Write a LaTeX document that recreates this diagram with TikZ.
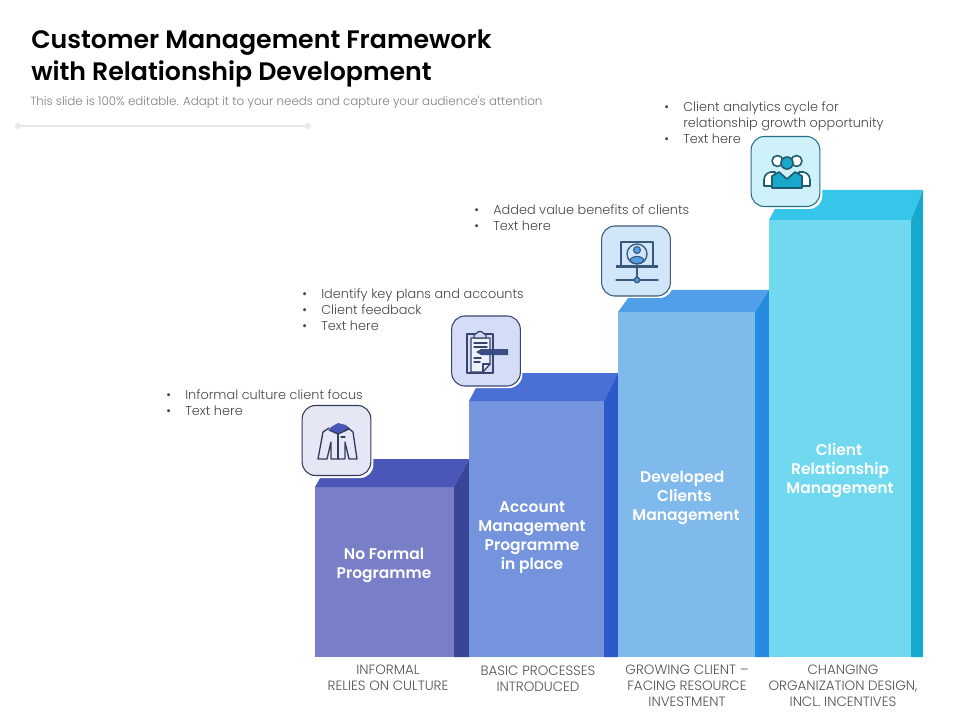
\documentclass[tikz,border=0pt]{standalone}
\usepackage{fontspec}
\setmainfont{Poppins}
\newfontfamily\lightfont{Poppins Light}
\newfontfamily\semifont{Poppins SemiBold}
\newcommand{\blt}{\makebox[14.25pt][l]{•}}
\tikzset{
  x=0.75pt,y=-0.75pt,
  tile/.style={draw=#1,line width=0.8pt,rounded corners=10pt,minimum width=51.5pt,minimum height=52.5pt,inner sep=0pt},
  glow/.style={fill=white,rounded corners=10pt,minimum width=51.5pt,minimum height=52.5pt,inner sep=0pt},
  bulletlist/.style={font=\lightfont\fontsize{9.65}{12}\selectfont,text=black!72,align=left,anchor=north west,inner sep=0pt},
  barlabel/.style={font=\semifont\fontsize{11.6}{14.3}\selectfont,text=white,align=center,inner sep=0pt},
  caption/.style={font=\lightfont\fontsize{10.1}{12}\selectfont,text=black!68,align=center,inner sep=0pt,anchor=north},
  ic/.style={draw=#1,line width=1pt,line join=round,line cap=round},
}
\definecolor{fA}{HTML}{787FC8}\definecolor{tA}{HTML}{4A56B8}\definecolor{sA}{HTML}{394697}
\definecolor{fB}{HTML}{7594DE}\definecolor{tB}{HTML}{4B70D5}\definecolor{sB}{HTML}{2C58C9}
\definecolor{fC}{HTML}{80BAEC}\definecolor{tC}{HTML}{519FE8}\definecolor{sC}{HTML}{268CE2}
\definecolor{fD}{HTML}{70D8EF}\definecolor{tD}{HTML}{36C6EA}\definecolor{sD}{HTML}{17A9CC}
\definecolor{iA}{HTML}{343C5E}\definecolor{iB}{HTML}{36456F}\definecolor{iC}{HTML}{3A5878}\definecolor{iD}{HTML}{1F5C70}
\begin{document}
\begin{tikzpicture}
\useasboundingbox (0,0) rectangle (960,720);
\fill[white] (0,0) rectangle (960,720);
% title
\node[anchor=north west,inner sep=0pt,align=left,font=\semifont\fontsize{18.95}{24}\selectfont,text=black] (title) at (31,29.5) {Customer Management Framework\\with Relationship Development};
\node[anchor=west,inner sep=0pt,font=\lightfont\fontsize{8.9}{10}\selectfont,text=black!50] (sub) at (30,102) {This slide is 100\% editable. Adapt it to your needs and capture your audience's attention};
\coordinate (ruleL) at (18,126);
\coordinate (ruleR) at (308,126);
\draw[black!9,line width=1.2pt] (ruleL) -- (ruleR);
\fill[black!9] (ruleL) circle (3);
\fill[black!9] (ruleR) circle (3);
% bars
\fill[fA] (315,487) rectangle (454,657);
\fill[tA] (315,487) -- (331,459) -- (469,459) -- (454,487) -- cycle;
\fill[sA] (454,487) -- (469,459) -- (469,657) -- (454,657) -- cycle;
\fill[fB] (469,401) rectangle (604,657);
\fill[tB] (469,401) -- (484,373) -- (618,373) -- (604,401) -- cycle;
\fill[sB] (604,401) -- (618,373) -- (618,657) -- (604,657) -- cycle;
\fill[fC] (618,312) rectangle (755,657);
\fill[tC] (618,312) -- (634,290) -- (769,290) -- (755,312) -- cycle;
\fill[sC] (755,312) -- (769,290) -- (769,657) -- (755,657) -- cycle;
\fill[fD] (769,220) rectangle (911,657);
\fill[tD] (769,220) -- (785,190) -- (923,190) -- (911,220) -- cycle;
\fill[sD] (911,220) -- (923,190) -- (923,657) -- (911,657) -- cycle;
% bar labels
\node[barlabel] (l1) at (384,565.5) {No Formal\\Programme};
\node[barlabel] (l2) at (532,537.5) {Account\\Management\\Programme\\in place};
\node[barlabel,align=left] (l3) at (686,497.5) {\hspace*{0.5em}Developed\\\hspace*{1.6em}Clients\\Management};
\node[barlabel,align=left] (l4) at (840,470.5) {\hspace*{1.9em}Client\\\hspace*{0.3em}Relationship\\Management};
% captions
\node[caption] (c1) at (388,665) {INFORMAL\\RELIES ON CULTURE};
\node[caption] (c2) at (538,666) {BASIC PROCESSES\\INTRODUCED};
\node[caption] (c3) at (687,665) {GROWING CLIENT –\\FACING RESOURCE\\INVESTMENT};
\node[caption] (c4) at (843,665) {CHANGING\\ORGANIZATION DESIGN,\\INCL. INCENTIVES};
% lists
\node[bulletlist] (b1) at (166,389) {\blt Informal culture client focus\\\blt Text here};
\node[bulletlist] (b2) at (302,288) {\blt Identify key plans and accounts\\\blt Client feedback\\\blt Text here};
\node[bulletlist] (b3) at (474,204) {\blt Added value benefits of clients\\\blt Text here};
\node[bulletlist] (b4) at (664,101) {\blt Client analytics cycle for\\\hspace*{14.25pt}relationship growth opportunity\\\blt Text here};
% tile 1: jacket
\node[glow] at (339,443) {};
\node[tile=iA,fill=tA!14] (t1) at (336.5,440.5) {};
\fill[tA] (331,427) -- (338,423) -- (346,425) -- (349,429) -- (338,434) -- (329,430) -- cycle;
\draw[ic=iA] (329,428) -- (323,432) -- (318,459) -- (327,459) -- (331,442) -- (331,459) -- (345,459) -- (345,442) -- (349,459) -- (357,459) -- (353,432) -- (347,427);
\draw[ic=iA] (329,430) -- (338,434) -- (349,429);
\draw[ic=iA] (338,434) -- (338,459);
\draw[ic=iA,line width=0.8pt] (341,437) -- (345,437);
% tile 2: clipboard
\node[glow] at (488,353) {};
\node[tile=iB,fill=tB!24] (t2) at (486,351) {};
\draw[ic=iB,fill=tB!24] (467,334) -- (493,334) -- (493,373) -- (467,373) -- cycle;
\draw[ic=iB,fill=tB!10] (471,338) -- (490,338) -- (490,364) -- (483,372) -- (471,372) -- cycle;
\draw[ic=iB] (490,364) -- (483,364) -- (483,372);
\draw[ic=iB,fill=tB!24] (474,338) -- (474,335) -- (477,333) .. controls (478,331) and (482,331) .. (483,333) -- (486,335) -- (486,338) -- cycle;
\draw[ic=iB] (474,343) -- (487,343);
\draw[ic=iB] (474,347) -- (487,347);
\draw[ic=iB] (474,358) -- (481,358);
\draw[ic=iB] (474,362) -- (480,362);
\fill[iB!80!tB] (476,352) -- (481,349) -- (508,349) -- (508,355) -- (481,355) -- cycle;
% tile 3: monitor
\node[glow] at (638.5,263) {};
\node[tile=iC,fill=tC!26] (t3) at (636,261) {};
\draw[ic=iC] (621,265) -- (621,242) -- (653,242) -- (653,265);
\fill[iC] (616,265) rectangle (658,268);
\draw[ic=iC,line width=1pt] (637,254) circle (10);
\fill[tC] (637,250) circle (3.5);
\draw[ic=iC,line width=0.8pt] (637,250) circle (3.5);
\draw[ic=iC,line width=0.8pt,fill=tC] (630,261) .. controls (630,255) and (644,255) .. (644,261) .. controls (641,264.5) and (633,264.5) .. (630,261) -- cycle;
\draw[ic=iC] (637,268) -- (637,280);
\draw[ic=iC] (616,280) -- (658,280);
\draw[ic=iC,fill=tC] (637,280) circle (2.7);
% tile 4: people
\node[glow] at (788,174) {};
\node[tile=iD!80!tD,fill=tD!24] (t4) at (785.5,171.5) {};
\draw[ic=iD,line width=1.2pt,fill=white] (777.5,161) circle (5.5);
\draw[ic=iD,line width=1.2pt,fill=white] (796.5,161) circle (5.5);
\draw[ic=iD,line width=1.2pt,fill=white] (764,186) -- (764,180) .. controls (764,174) and (769,171) .. (775,172) -- (775,186) -- cycle;
\draw[ic=iD,line width=1.2pt,fill=white] (810,186) -- (810,180) .. controls (810,174) and (805,171) .. (799,172) -- (799,186) -- cycle;
\draw[ic=iD,line width=1.2pt,fill=sD] (772,188) -- (772,176) -- (779,172) -- (787,179) -- (795,172) -- (802,176) -- (802,188) -- cycle;
\draw[ic=iD,line width=1.2pt,fill=sD] (787,163) circle (6);
\end{tikzpicture}
\end{document}
